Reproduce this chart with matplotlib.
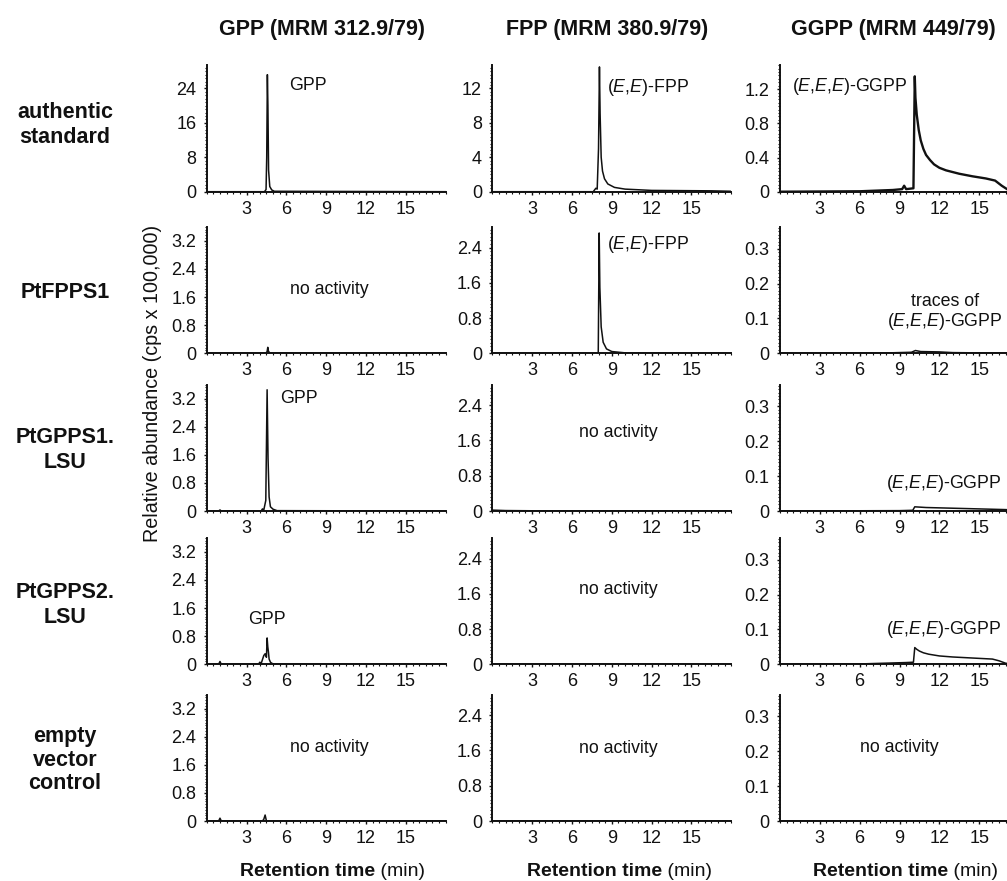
import matplotlib
matplotlib.use("Agg")
import matplotlib.pyplot as plt
from matplotlib.ticker import MultipleLocator, FixedLocator

plt.rcParams['font.family'] = ['Liberation Sans', 'DejaVu Sans']
plt.rcParams['mathtext.fontset'] = 'custom'
plt.rcParams['mathtext.rm'] = 'Liberation Sans'
plt.rcParams['mathtext.it'] = 'Liberation Sans:italic'
plt.rcParams['mathtext.bf'] = 'Liberation Sans:bold'

# ---------------- data ----------------
col_titles = ["GPP (MRM 312.9/79)", "FPP (MRM 380.9/79)", "GGPP (MRM 449/79)"]
row_labels = ["authentic\nstandard", "PtFPPS1", "PtGPPS1.\nLSU", "PtGPPS2.\nLSU", "empty\nvector\ncontrol"]
x_ticks = [3, 6, 9, 12, 15]
y_ticks_top = [[0, 8, 16, 24], [0, 4, 8, 12], [0, 0.4, 0.8, 1.2]]
y_ticks_rest = [[0, 0.8, 1.6, 2.4, 3.2], [0, 0.8, 1.6, 2.4], [0, 0.1, 0.2, 0.3]]
y_top_lim = [29.4, 14.7, 1.48]
y_rest_lim = [3.6, 2.87, 0.363]

# chromatogram traces (retention time in min, abundance in cps x 100,000)
std_gpp_t = [0, 4.35, 4.47, 4.52, 4.57, 4.61, 4.66, 4.75, 4.9, 5.1, 18]
std_gpp_y = [0, 0, 0.5, 8, 27.2, 20, 5, 1.2, 0.4, 0.1, 0]
std_fpp_t = [0, 7.6, 7.8, 7.9, 8.0, 8.07, 8.12, 8.2, 8.3, 8.45, 8.7, 9.2, 10, 12, 16.5, 18]
std_fpp_y = [0, 0, 0.4, 0.3, 5, 14.5, 9, 4, 2.4, 1.5, 0.9, 0.5, 0.3, 0.15, 0.1, 0.05]
std_ggpp_t = [0, 6, 8.5, 9.2, 9.35, 9.5, 10.05, 10.15, 10.2, 10.3, 10.45, 10.6, 10.8, 11, 11.3, 11.6, 12, 12.5,
              13.5, 14.5, 15.5, 16.2, 16.7, 17.2, 18]
std_ggpp_y = [0, 0.005, 0.02, 0.03, 0.07, 0.03, 0.04, 1.35, 1.1, 0.9, 0.72, 0.6, 0.5, 0.43, 0.37, 0.32, 0.28, 0.25,
              0.21, 0.18, 0.155, 0.13, 0.07, 0.02, 0]

fpps_gpp_t = [0, 4.45, 4.55, 4.6, 4.65, 4.75, 18]
fpps_gpp_y = [0, 0, 0.05, 0.17, 0.06, 0.01, 0]
fpps_fpp_t = [0, 7.9, 7.98, 8.05, 8.1, 8.2, 8.35, 8.6, 9.0, 10, 18]
fpps_fpp_y = [0, 0, 0.02, 2.73, 1.5, 0.6, 0.25, 0.1, 0.04, 0.01, 0]
fpps_ggpp_t = [0, 8, 9.9, 10.2, 10.6, 12, 13, 18]
fpps_ggpp_y = [0, 0.001, 0.003, 0.008, 0.005, 0.004, 0.002, 0]

gpps1_gpp_t = [0, 0.9, 1.0, 1.1, 4.1, 4.2, 4.3, 4.45, 4.55, 4.62, 4.7, 4.8, 5.0, 5.3, 18]
gpps1_gpp_y = [0, 0, 0.03, 0, 0, 0.06, 0.03, 0.3, 3.45, 1.5, 0.4, 0.12, 0.05, 0.01, 0]
gpps1_fpp_t = [0, 1, 3, 18]
gpps1_fpp_y = [0.02, 0.01, 0.005, 0]
gpps1_ggpp_t = [0, 9, 10.0, 10.15, 11, 13, 15, 17, 18]
gpps1_ggpp_y = [0, 0.001, 0.002, 0.012, 0.01, 0.008, 0.006, 0.004, 0.002]

gpps2_gpp_t = [0, 0.9, 1.0, 1.1, 3.9, 4.0, 4.1, 4.3, 4.4, 4.5, 4.55, 4.6, 4.65, 4.7, 4.8, 4.9, 5.1, 18]
gpps2_gpp_y = [0, 0, 0.08, 0, 0, 0.06, 0.02, 0.25, 0.3, 0.2, 0.75, 0.5, 0.35, 0.15, 0.06, 0.03, 0, 0]
gpps2_fpp_t = [0, 1, 18]
gpps2_fpp_y = [0.01, 0.005, 0]
gpps2_ggpp_t = [0, 6, 9.5, 10.05, 10.15, 10.3, 10.5, 10.8, 11.2, 12, 13, 14, 15, 16, 16.5, 17, 18]
gpps2_ggpp_y = [0, 0.001, 0.005, 0.006, 0.048, 0.043, 0.038, 0.033, 0.029, 0.024, 0.021, 0.019, 0.017, 0.015,
                0.01, 0.003, 0]

ev_gpp_t = [0, 0.9, 1.0, 1.1, 4.2, 4.3, 4.4, 4.5, 18]
ev_gpp_y = [0, 0, 0.08, 0, 0, 0.05, 0.17, 0, 0]
ev_fpp_t = [0, 18]
ev_fpp_y = [0.005, 0]
ev_ggpp_t = [0, 18]
ev_ggpp_y = [0.001, 0.001]

traces = [
    [(std_gpp_t, std_gpp_y), (std_fpp_t, std_fpp_y), (std_ggpp_t, std_ggpp_y)],
    [(fpps_gpp_t, fpps_gpp_y), (fpps_fpp_t, fpps_fpp_y), (fpps_ggpp_t, fpps_ggpp_y)],
    [(gpps1_gpp_t, gpps1_gpp_y), (gpps1_fpp_t, gpps1_fpp_y), (gpps1_ggpp_t, gpps1_ggpp_y)],
    [(gpps2_gpp_t, gpps2_gpp_y), (gpps2_fpp_t, gpps2_fpp_y), (gpps2_ggpp_t, gpps2_ggpp_y)],
    [(ev_gpp_t, ev_gpp_y), (ev_fpp_t, ev_fpp_y), (ev_ggpp_t, ev_ggpp_y)],
]

EE = r"($\it{E}$,$\it{E}$)-FPP"
EEE = r"($\it{E}$,$\it{E}$,$\it{E}$)-GGPP"
# annotations: (row, col, x, y, text, ha)
annotations = [
    (0, 0, 6.2, 24.6, "GPP", "left"),
    (0, 1, 8.65, 12.1, EE, "left"),
    (0, 2, 0.9, 1.23, EEE, "left"),
    (1, 0, 9.25, 1.81, "no activity", "center"),
    (1, 1, 8.65, 2.47, EE, "left"),
    (1, 2, 12.4, 0.149, "traces of", "center"),
    (1, 2, 12.4, 0.092, EEE, "center"),
    (2, 0, 5.5, 3.2, "GPP", "left"),
    (2, 1, 9.5, 1.79, "no activity", "center"),
    (2, 2, 12.3, 0.08, EEE, "center"),
    (3, 0, 4.5, 1.27, "GPP", "center"),
    (3, 1, 9.5, 1.7, "no activity", "center"),
    (3, 2, 12.3, 0.1, EEE, "center"),
    (4, 0, 9.25, 2.09, "no activity", "center"),
    (4, 1, 9.5, 1.65, "no activity", "center"),
    (4, 2, 9.0, 0.21, "no activity", "center"),
]

# ---------------- layout ----------------
W, H = 1007, 881
fig = plt.figure(figsize=(W / 100, H / 100), dpi=100)

col_left = [206.7, 492.3, 780.0]
ax_w = 239.0
row_bottom = [191.7, 353.3, 511.0, 664.3, 821.0]
ax_h = 126.5

axes = []
for r in range(5):
    row_axes = []
    for c in range(3):
        ax = fig.add_axes([col_left[c] / W, 1 - row_bottom[r] / H, ax_w / W, ax_h / H])
        t, y = traces[r][c]
        lw = 1.7 if (r == 0 and c == 2) else 1.1
        ax.plot(t, y, color="#111111", lw=lw, solid_joinstyle="round")
        ax.set_xlim(0, 18)
        if r == 0:
            ax.set_ylim(0, y_top_lim[c])
            yt = y_ticks_top[c]
        else:
            ax.set_ylim(0, y_rest_lim[c])
            yt = y_ticks_rest[c]
        ax.yaxis.set_major_locator(FixedLocator(yt))
        ax.xaxis.set_major_locator(FixedLocator(x_ticks))
        ax.yaxis.set_minor_locator(MultipleLocator((yt[1] - yt[0]) / 10))
        ax.xaxis.set_minor_locator(MultipleLocator(0.5))
        ax.set_yticklabels([("%g" % v) for v in yt])
        ax.set_xticklabels([str(v) for v in x_ticks])
        for s in ("top", "right"):
            ax.spines[s].set_visible(False)
        for s in ("left", "bottom"):
            ax.spines[s].set_linewidth(1.4)
            ax.spines[s].set_color("#111111")
        ax.tick_params(which="major", direction="out", length=2.5, width=1, labelsize=13, pad=4, colors="#111111")
        ax.tick_params(which="minor", direction="out", length=1.5, width=0.8, colors="#111111")
        ax.tick_params(axis="y", which="major", pad=5)
        row_axes.append(ax)
    axes.append(row_axes)

for (r, c, x, y, txt, ha) in annotations:
    axes[r][c].text(x, y, txt, ha=ha, va="center", fontsize=12.8, color="#111111")

# column titles
col_title_x = [322, 607, 893]
for c in range(3):
    fig.text(col_title_x[c] / W, 1 - 30 / H, col_titles[c], ha="center", va="center",
             fontsize=15.5, fontweight="bold", color="#111111")

# row labels
row_label_y = [125, 292, 450, 605, 760]
row_label_ls = [1.3, 1.3, 1.3, 1.3, 1.15]
for r in range(5):
    fig.text(65 / W, 1 - row_label_y[r] / H, row_labels[r], ha="center", va="center",
             fontsize=15.5, fontweight="bold", color="#111111", linespacing=row_label_ls[r])

# y label
fig.text(152 / W, 1 - 383 / H, "Relative abundance (cps x 100,000)", rotation=90,
         ha="center", va="center", fontsize=14.2, color="#111111")

# x labels
xlabel_left = [240, 527, 813]
for c in range(3):
    t1 = fig.text(xlabel_left[c] / W, 1 - 872 / H, "Retention time", ha="left", va="center",
                  fontsize=14, fontweight="bold", color="#111111")
    plt.annotate(" (min)", xy=(1, 0), xycoords=t1, ha="left", va="bottom",
                 fontsize=14, color="#111111")

fig.savefig("out.png", dpi=100)
